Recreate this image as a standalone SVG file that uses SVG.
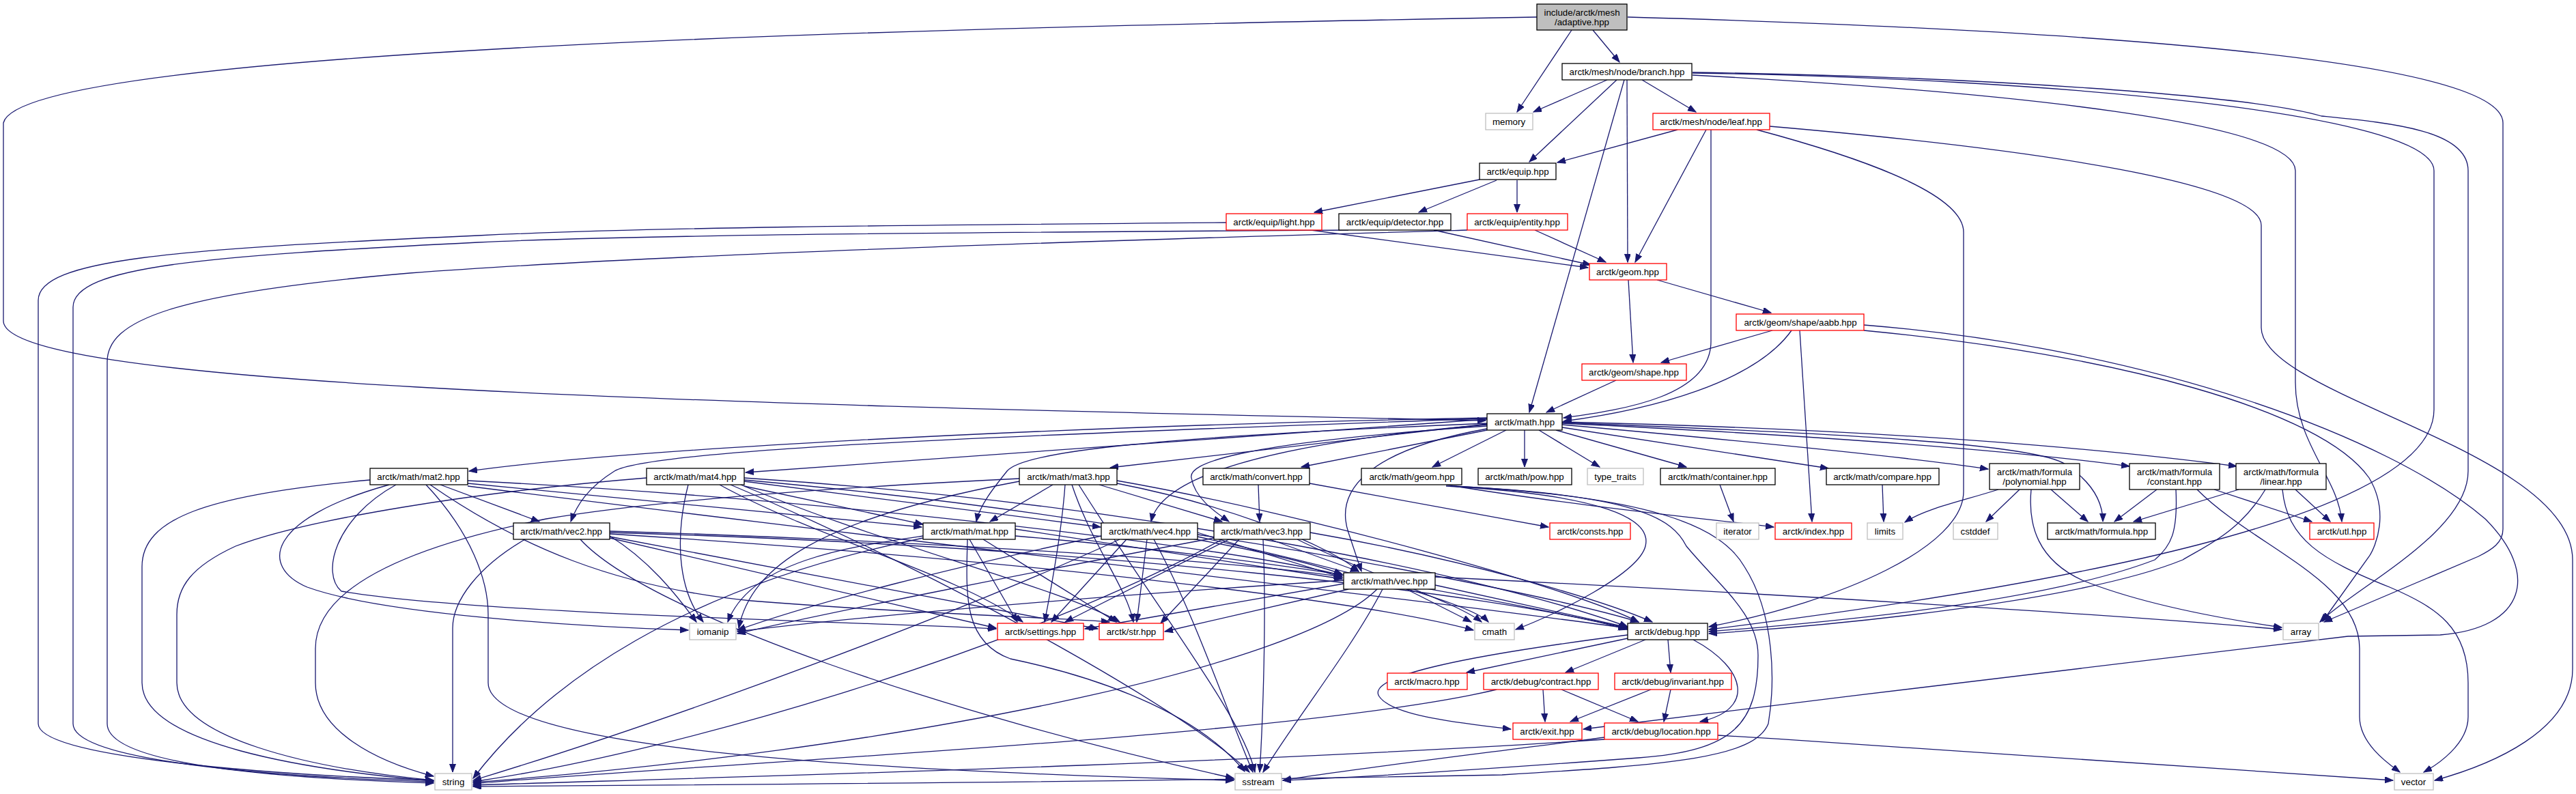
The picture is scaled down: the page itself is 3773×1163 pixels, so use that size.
<svg xmlns="http://www.w3.org/2000/svg" width="3773" height="1163" viewBox="0 0 3773 1163">
<style>
rect{fill:#fff;stroke:#000;stroke-width:1.3}
.r rect{stroke:#f00}
.g rect{stroke:#bfbfbf}
.root rect{fill:#bfbfbf}
text{font-family:"Liberation Sans",Arial,sans-serif;font-size:13.33px;text-anchor:middle;fill:#000}
#edges path{fill:none;stroke:#191970;stroke-width:1.3;marker-end:url(#ah)}
</style>
<defs>
<marker id="ah" markerUnits="userSpaceOnUse" markerWidth="13" markerHeight="10" refX="12" refY="4.5" orient="auto"><path d="M0,0 L12,4.5 L0,9 z" fill="#191970" stroke="#191970" stroke-width="1"/></marker>
</defs>
<rect x="0" y="0" width="3773" height="1163" style="fill:#fff;stroke:none"/>
<g id="edges">
<path d="M2302,44 L2222,164"/>
<path d="M2333,44 L2372,91"/>
<path d="M2251,25 C1400,40 30,70 5,180 L5,470 C5,560 900,590 2176,616"/>
<path d="M2384,25 C3100,45 3666,90 3666,180 L3666,775 C3666,795 3650,805 3630,815 L3404,911"/>
<path d="M2354,117 L2246,164"/>
<path d="M2368,117 L2240,237"/>
<path d="M2379,117 L2240,604"/>
<path d="M2383,117 L2384,384"/>
<path d="M2405,117 L2484,164"/>
<path d="M2479,110 C2950,135 3362,180 3362,250 L3362,560 C3362,650 3425,700 3430,764"/>
<path d="M2479,107 C3000,115 3565,165 3565,250 L3565,600 C3565,760 3000,860 2503,922"/>
<path d="M2479,106 C2900,112 3300,140 3400,170 C3500,180 3615,190 3615,250 L3615,690 C3615,780 3450,860 3398,911"/>
<path d="M2457,190 L2281,238"/>
<path d="M2499,190 L2395,384"/>
<path d="M2506,190 L2506,500 C2506,580 2380,600 2290,612"/>
<path d="M2592,185 C3000,220 3312,270 3312,330 L3312,480 C3312,580 3768,660 3768,820 L3768,980 C3768,1070 3650,1120 3566,1143"/>
<path d="M2573,190 C2760,240 2876,290 2876,340 L2876,720 C2876,800 2700,880 2503,918"/>
<path d="M2167,263 L1925,311"/>
<path d="M2192,264 L2078,311"/>
<path d="M2222,264 L2222,311"/>
<path d="M1920,337 L2326,392"/>
<path d="M2100,337 L2330,388"/>
<path d="M2248,337 L2352,384"/>
<path d="M1796,326 C1300,330 950,333 700,345 C250,365 56,380 56,440 L56,1060 C56,1110 400,1135 635,1143"/>
<path d="M1975,337 C1500,340 950,343 700,355 C300,375 107,390 107,450 L107,1060 C107,1115 400,1138 635,1145"/>
<path d="M2149,337 C1700,350 1000,370 600,400 C250,430 157,470 157,530 L157,1060 C157,1120 400,1140 635,1147"/>
<path d="M2385,410 L2392,531"/>
<path d="M2427,410 L2594,458"/>
<path d="M2596,484 L2433,531"/>
<path d="M2624,484 C2570,560 2420,600 2290,617"/>
<path d="M2636,484 L2654,764"/>
<path d="M2730,476 C3150,510 3500,640 3640,760 C3720,840 3700,920 3574,930 L3439,932 C3200,960 2700,1020 2319,1068"/>
<path d="M2730,484 C3100,520 3400,600 3470,700 C3500,750 3480,800 3470,815 L3402,910"/>
<path d="M2367,557 L2265,604"/>
<path d="M2206,630 L2098,684"/>
<path d="M2233,630 L2233,684"/>
<path d="M2254,630 L2343,684"/>
<path d="M2279,630 L2470,684"/>
<path d="M2288,626 L2678,686"/>
<path d="M2288,622 C2600,650 2800,670 2912,687"/>
<path d="M2288,620 C2700,640 2950,660 3119,683"/>
<path d="M2288,618 C2800,630 3100,660 3276,683"/>
<path d="M2288,619 C2700,635 2980,650 3025,680 C3070,710 3080,740 3080,764"/>
<path d="M2178,630 L1906,684"/>
<path d="M2178,614 L1092,692"/>
<path d="M2178,612 C1500,625 900,660 687,690"/>
<path d="M2178,621 L1626,685"/>
<path d="M2178,620 C1700,640 1500,660 1475,690 C1455,715 1435,740 1430,764"/>
<path d="M2178,622 C1850,650 1700,700 1686,764"/>
<path d="M2178,624 C1800,650 1740,680 1745,700 C1750,730 1780,750 1800,764"/>
<path d="M2178,613 C1400,640 950,660 900,690 C860,715 845,740 836,764"/>
<path d="M2178,628 C2000,660 1955,720 1975,780 C1985,810 1990,825 1994,837"/>
<path d="M645,710 L790,764"/>
<path d="M542,703 C300,725 208,760 208,830 L208,1000 C208,1090 450,1128 635,1144"/>
<path d="M570,710 C390,760 380,830 450,860 C560,900 850,918 1008,923"/>
<path d="M580,710 C490,760 470,840 500,866 C700,900 1300,912 1459,921"/>
<path d="M624,710 C690,780 715,850 715,900 L715,1000 C715,1100 1300,1130 1807,1143"/>
<path d="M630,710 C760,800 900,860 1100,880 C1350,900 1560,905 1625,911"/>
<path d="M685,708 L1350,772"/>
<path d="M685,704 C1200,730 1800,800 1966,843"/>
<path d="M685,712 C1300,790 2100,880 2382,920"/>
<path d="M1090,712 L1352,768"/>
<path d="M1090,705 L1612,772"/>
<path d="M947,700 C700,720 450,760 345,800 C280,830 259,860 259,900 L259,1000 C259,1080 450,1125 635,1143"/>
<path d="M1008,710 C990,780 990,860 1030,911"/>
<path d="M1054,710 C1200,790 1400,840 1498,911"/>
<path d="M1085,710 C1300,800 1550,860 1640,911"/>
<path d="M1070,710 C1400,850 1750,1050 1830,1131"/>
<path d="M1090,703 C1500,740 1850,800 1966,841"/>
<path d="M1090,700 C1700,740 2200,850 2384,918"/>
<path d="M1542,710 L1450,764"/>
<path d="M1610,710 L1790,764"/>
<path d="M1493,701 C1200,715 950,735 800,760 C600,800 462,860 462,950 L462,1000 C462,1070 550,1115 635,1137"/>
<path d="M1560,710 C1555,780 1540,860 1530,911"/>
<path d="M1570,710 C1600,800 1650,860 1660,911"/>
<path d="M1636,708 C1800,740 1950,800 1990,837"/>
<path d="M1636,704 C1900,750 2300,860 2400,911"/>
<path d="M1493,705 C1200,760 1100,830 1082,920"/>
<path d="M1580,710 C1700,900 1820,1050 1838,1131"/>
<path d="M1487,775 L1966,848"/>
<path d="M1352,785 C1250,800 1100,820 1066,911"/>
<path d="M1352,788 C1000,860 800,1000 693,1140"/>
<path d="M1420,790 L1490,911"/>
<path d="M1440,790 L1635,911"/>
<path d="M1417,790 C1415,870 1410,940 1480,965 C1600,990 1750,1040 1823,1130"/>
<path d="M1487,785 C1900,820 2200,880 2384,920"/>
<path d="M769,790 C700,830 663,880 663,920 L663,1131"/>
<path d="M893,778 C1300,790 1800,820 1966,845"/>
<path d="M893,785 C950,820 990,870 1020,911"/>
<path d="M893,788 L1459,920"/>
<path d="M893,786 L1608,921"/>
<path d="M850,790 C950,900 1400,1050 1807,1140"/>
<path d="M893,782 C1500,820 2000,880 2158,923"/>
<path d="M893,780 C1600,800 2200,870 2384,922"/>
<path d="M1754,780 L1966,846"/>
<path d="M1613,785 C1400,830 1200,880 1080,923"/>
<path d="M1650,790 L1540,911"/>
<path d="M1680,790 L1665,911"/>
<path d="M1640,790 C1400,900 1000,1050 693,1143"/>
<path d="M1690,790 C1750,900 1800,1050 1835,1131"/>
<path d="M1754,786 C1950,830 2150,880 2180,911"/>
<path d="M1754,783 C2000,820 2300,880 2400,911"/>
<path d="M1860,790 L1990,837"/>
<path d="M1778,788 C1500,840 1200,900 1080,928"/>
<path d="M1800,790 L1560,911"/>
<path d="M1815,790 L1700,913"/>
<path d="M1790,790 C1500,950 1000,1100 693,1145"/>
<path d="M1850,790 C1855,900 1850,1050 1845,1131"/>
<path d="M1900,790 C2000,840 2130,880 2170,911"/>
<path d="M1919,780 C2150,820 2350,880 2420,911"/>
<path d="M2060,863 L2155,911"/>
<path d="M2102,857 L2384,919"/>
<path d="M2102,845 C2600,870 3100,900 3342,922"/>
<path d="M1968,850 C1500,880 1200,910 1080,925"/>
<path d="M1968,855 L1589,921"/>
<path d="M1975,863 L1706,925"/>
<path d="M2017,863 C1900,980 1300,1100 693,1146"/>
<path d="M2025,863 C1980,950 1900,1050 1850,1131"/>
<path d="M2118,710 C2300,740 2500,760 2598,772"/>
<path d="M2118,712 C2350,725 2420,760 2410,800 C2400,840 2280,900 2220,922"/>
<path d="M2125,712 C2400,725 2450,760 2470,800 C2520,860 2575,900 2575,960 C2575,1060 2540,1100 2400,1110 C2200,1125 2000,1138 1879,1143"/>
<path d="M2130,712 C2420,728 2520,770 2555,830 C2600,900 2600,1000 2590,1060 C2570,1110 2450,1120 2200,1135 C1500,1148 900,1150 693,1152"/>
<path d="M1843,710 L1845,764"/>
<path d="M1918,708 L2268,772"/>
<path d="M2519,710 L2539,764"/>
<path d="M2757,710 L2759,764"/>
<path d="M2927,717 C2870,735 2820,745 2790,765"/>
<path d="M2958,717 L2909,764"/>
<path d="M3004,717 L3058,764"/>
<path d="M2975,717 C2970,770 2985,820 3050,850 C3150,890 3280,910 3342,919"/>
<path d="M3159,717 L3097,764"/>
<path d="M3187,717 C3190,780 3180,800 3156,820 C3000,880 2700,910 2503,925"/>
<path d="M3218,717 C3300,800 3456,850 3456,950 L3456,1050 C3456,1090 3500,1120 3515,1131"/>
<path d="M3243,717 L3386,764"/>
<path d="M3279,717 L3125,764"/>
<path d="M3318,717 C3280,780 3230,800 3197,820 C3050,880 2700,915 2503,928"/>
<path d="M3343,717 C3350,790 3400,820 3500,860 C3570,890 3615,920 3615,1000 L3615,1050 C3615,1090 3570,1120 3550,1131"/>
<path d="M3362,717 L3413,764"/>
<path d="M2384,935 L2148,985"/>
<path d="M2410,937 L2293,985"/>
<path d="M2443,937 L2447,985"/>
<path d="M2384,930 C2150,960 2000,990 2020,1020 C2040,1050 2150,1060 2213,1068"/>
<path d="M2480,937 C2560,980 2570,1040 2490,1057"/>
<path d="M2260,1010 L2263,1057"/>
<path d="M2287,1010 L2399,1057"/>
<path d="M2192,1010 C1900,1080 1000,1120 693,1148"/>
<path d="M2418,1010 L2300,1057"/>
<path d="M2447,1010 L2437,1057"/>
<path d="M2350,1083 C1800,1120 1000,1140 693,1150"/>
<path d="M2350,1080 C2200,1100 1950,1130 1879,1143"/>
<path d="M2516,1077 C2900,1100 3300,1130 3505,1143"/>
</g>
<g id="n_adaptive" class="root"><rect x="2251" y="6" width="132" height="38"/><text x="2317" y="22.5">include/arctk/mesh</text><text x="2317" y="36.5">/adaptive.hpp</text></g>
<g id="n_branch"><rect x="2288" y="93" width="190" height="24"/><text x="2383" y="109.5">arctk/mesh/node/branch.hpp</text></g>
<g id="n_memory" class="g"><rect x="2176" y="166" width="69" height="24"/><text x="2210" y="182.5">memory</text></g>
<g id="n_leaf" class="r"><rect x="2421" y="166" width="171" height="24"/><text x="2506" y="182.5">arctk/mesh/node/leaf.hpp</text></g>
<g id="n_equip"><rect x="2167" y="239" width="112" height="24"/><text x="2223" y="255.5">arctk/equip.hpp</text></g>
<g id="n_light" class="r"><rect x="1796" y="313" width="140" height="24"/><text x="1866" y="329.5">arctk/equip/light.hpp</text></g>
<g id="n_detector"><rect x="1961" y="313" width="164" height="24"/><text x="2043" y="329.5">arctk/equip/detector.hpp</text></g>
<g id="n_entity" class="r"><rect x="2149" y="313" width="147" height="24"/><text x="2222" y="329.5">arctk/equip/entity.hpp</text></g>
<g id="n_geom" class="r"><rect x="2328" y="386" width="113" height="24"/><text x="2384" y="402.5">arctk/geom.hpp</text></g>
<g id="n_aabb" class="r"><rect x="2543" y="460" width="187" height="24"/><text x="2637" y="476.5">arctk/geom/shape/aabb.hpp</text></g>
<g id="n_shape" class="r"><rect x="2317" y="533" width="153" height="24"/><text x="2393" y="549.5">arctk/geom/shape.hpp</text></g>
<g id="n_math"><rect x="2178" y="606" width="110" height="24"/><text x="2233" y="622.5">arctk/math.hpp</text></g>
<g id="n_mat2"><rect x="542" y="686" width="143" height="24"/><text x="613" y="702.5">arctk/math/mat2.hpp</text></g>
<g id="n_mat4"><rect x="947" y="686" width="143" height="24"/><text x="1018" y="702.5">arctk/math/mat4.hpp</text></g>
<g id="n_mat3"><rect x="1493" y="686" width="143" height="24"/><text x="1565" y="702.5">arctk/math/mat3.hpp</text></g>
<g id="n_convert"><rect x="1762" y="686" width="156" height="24"/><text x="1840" y="702.5">arctk/math/convert.hpp</text></g>
<g id="n_mgeom"><rect x="1994" y="686" width="147" height="24"/><text x="2068" y="702.5">arctk/math/geom.hpp</text></g>
<g id="n_pow"><rect x="2165" y="686" width="137" height="24"/><text x="2233" y="702.5">arctk/math/pow.hpp</text></g>
<g id="n_type_traits" class="g"><rect x="2325" y="686" width="82" height="24"/><text x="2366" y="702.5">type_traits</text></g>
<g id="n_container"><rect x="2432" y="686" width="168" height="24"/><text x="2516" y="702.5">arctk/math/container.hpp</text></g>
<g id="n_compare"><rect x="2675" y="686" width="165" height="24"/><text x="2757" y="702.5">arctk/math/compare.hpp</text></g>
<g id="n_polynomial"><rect x="2914" y="679" width="132" height="38"/><text x="2980" y="696">arctk/math/formula</text><text x="2980" y="710">/polynomial.hpp</text></g>
<g id="n_constant"><rect x="3119" y="679" width="132" height="38"/><text x="3185" y="696">arctk/math/formula</text><text x="3185" y="710">/constant.hpp</text></g>
<g id="n_linear"><rect x="3275" y="679" width="132" height="38"/><text x="3341" y="696">arctk/math/formula</text><text x="3341" y="710">/linear.hpp</text></g>
<g id="n_vec2"><rect x="752" y="766" width="141" height="24"/><text x="822" y="782.5">arctk/math/vec2.hpp</text></g>
<g id="n_mat"><rect x="1352" y="766" width="135" height="24"/><text x="1420" y="782.5">arctk/math/mat.hpp</text></g>
<g id="n_vec4"><rect x="1613" y="766" width="141" height="24"/><text x="1684" y="782.5">arctk/math/vec4.hpp</text></g>
<g id="n_vec3"><rect x="1778" y="766" width="141" height="24"/><text x="1848" y="782.5">arctk/math/vec3.hpp</text></g>
<g id="n_consts" class="r"><rect x="2270" y="766" width="118" height="24"/><text x="2329" y="782.5">arctk/consts.hpp</text></g>
<g id="n_iterator" class="g"><rect x="2514" y="766" width="62" height="24"/><text x="2545" y="782.5">iterator</text></g>
<g id="n_index" class="r"><rect x="2600" y="766" width="112" height="24"/><text x="2656" y="782.5">arctk/index.hpp</text></g>
<g id="n_limits" class="g"><rect x="2735" y="766" width="52" height="24"/><text x="2761" y="782.5">limits</text></g>
<g id="n_cstddef" class="g"><rect x="2861" y="766" width="65" height="24"/><text x="2893" y="782.5">cstddef</text></g>
<g id="n_formula"><rect x="2999" y="766" width="158" height="24"/><text x="3078" y="782.5">arctk/math/formula.hpp</text></g>
<g id="n_utl" class="r"><rect x="3383" y="766" width="94" height="24"/><text x="3430" y="782.5">arctk/utl.hpp</text></g>
<g id="n_vec"><rect x="1968" y="839" width="134" height="24"/><text x="2035" y="855.5">arctk/math/vec.hpp</text></g>
<g id="n_iomanip" class="g"><rect x="1010" y="913" width="68" height="24"/><text x="1044" y="929.5">iomanip</text></g>
<g id="n_settings" class="r"><rect x="1461" y="913" width="126" height="24"/><text x="1524" y="929.5">arctk/settings.hpp</text></g>
<g id="n_str" class="r"><rect x="1610" y="913" width="94" height="24"/><text x="1657" y="929.5">arctk/str.hpp</text></g>
<g id="n_cmath" class="g"><rect x="2160" y="913" width="58" height="24"/><text x="2189" y="929.5">cmath</text></g>
<g id="n_debug"><rect x="2384" y="913" width="117" height="24"/><text x="2442" y="929.5">arctk/debug.hpp</text></g>
<g id="n_array" class="g"><rect x="3344" y="913" width="52" height="24"/><text x="3370" y="929.5">array</text></g>
<g id="n_macro" class="r"><rect x="2032" y="986" width="117" height="24"/><text x="2090" y="1002.5">arctk/macro.hpp</text></g>
<g id="n_contract" class="r"><rect x="2173" y="986" width="168" height="24"/><text x="2257" y="1002.5">arctk/debug/contract.hpp</text></g>
<g id="n_invariant" class="r"><rect x="2365" y="986" width="171" height="24"/><text x="2450" y="1002.5">arctk/debug/invariant.hpp</text></g>
<g id="n_exit" class="r"><rect x="2216" y="1059" width="101" height="24"/><text x="2266" y="1075.5">arctk/exit.hpp</text></g>
<g id="n_location" class="r"><rect x="2350" y="1059" width="166" height="24"/><text x="2433" y="1075.5">arctk/debug/location.hpp</text></g>
<g id="n_string" class="g"><rect x="637" y="1133" width="54" height="24"/><text x="664" y="1149.5">string</text></g>
<g id="n_sstream" class="g"><rect x="1809" y="1133" width="68" height="24"/><text x="1843" y="1149.5">sstream</text></g>
<g id="n_vector" class="g"><rect x="3507" y="1133" width="57" height="24"/><text x="3535" y="1149.5">vector</text></g>
</svg>
